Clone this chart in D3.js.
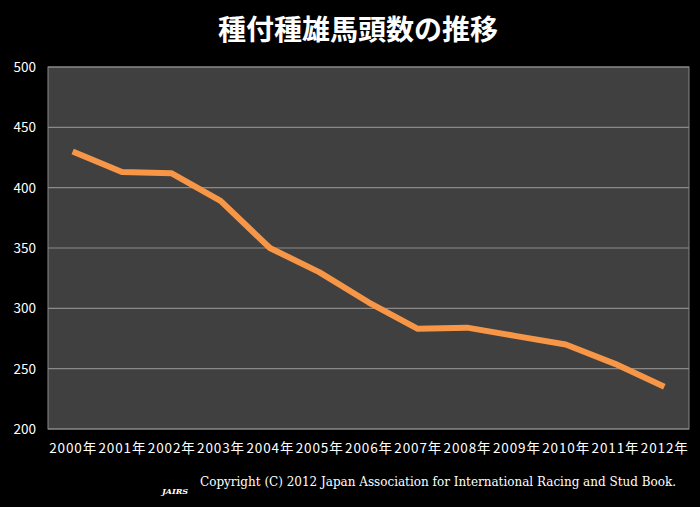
<!DOCTYPE html><html><head><meta charset="utf-8"><script src="https://cdn.jsdelivr.net/npm/d3@7"></script>
<style>body{margin:0;background:#000}</style></head><body><svg id="c" width="700" height="507"></svg>
<script>
const years=["2000年","2001年","2002年","2003年","2004年","2005年","2006年","2007年","2008年","2009年","2010年","2011年","2012年"];
const values=[430,413,412,389,350,330,305,283,284,277,270,254,235];
const yTicks=[200,250,300,350,400,450,500];
const svg=d3.select("#c");
svg.append("rect").attr("width",700).attr("height",507).attr("fill","#000");
const L=48,R=689,T=67,B=429;
const x=d3.scaleBand().domain(years).range([L,R]);
const y=d3.scaleLinear().domain([200,500]).range([B,T]);
svg.append("rect").attr("x",L).attr("y",T).attr("width",R-L).attr("height",B-T).attr("fill","#404040").attr("stroke","#888").attr("stroke-width",1);
svg.append("g").selectAll("line").data(yTicks).join("line").attr("x1",L).attr("x2",R).attr("y1",d=>y(d)).attr("y2",d=>y(d)).attr("stroke","#8a8a8a").attr("stroke-width",1.2);
const font="'Noto Sans CJK JP','Noto Sans',sans-serif";
svg.append("g").selectAll("text").data(yTicks).join("text").attr("x",36).attr("y",d=>y(d)+5).attr("text-anchor","end").attr("fill","#fff").attr("font-size",13.5).attr("font-family",font).text(d=>d);
svg.append("g").selectAll("text").data(years).join("text").attr("x",d=>x(d)+x.bandwidth()/2).attr("y",453).attr("text-anchor","middle").attr("fill","#fff").attr("font-size",13.5).attr("font-family",font).attr("textLength",47).text(d=>d);
svg.append("path").datum(values).attr("fill","none").attr("stroke","#f79646").attr("stroke-width",6).attr("stroke-linejoin","round")
 .attr("d",d3.line().x((d,i)=>x(years[i])+x.bandwidth()/2).y(d=>y(d)));
svg.append("text").attr("x",358).attr("y",40).attr("text-anchor","middle").attr("fill","#fff").attr("font-size",28).attr("font-weight","bold").attr("font-family",font).text("種付種雄馬頭数の推移");
svg.append("text").attr("x",676).attr("y",486).attr("text-anchor","end").attr("fill","#fff").attr("font-size",12).attr("font-family","'DejaVu Serif',serif").attr("textLength",476).text("Copyright (C) 2012 Japan Association for International Racing and Stud Book.");
svg.append("text").attr("x",175).attr("y",494).attr("text-anchor","middle").attr("fill","#fff").attr("font-size",8).attr("font-style","italic").attr("font-weight","bold").attr("font-family","'DejaVu Serif',serif").text("JAIRS");
</script></body></html>
